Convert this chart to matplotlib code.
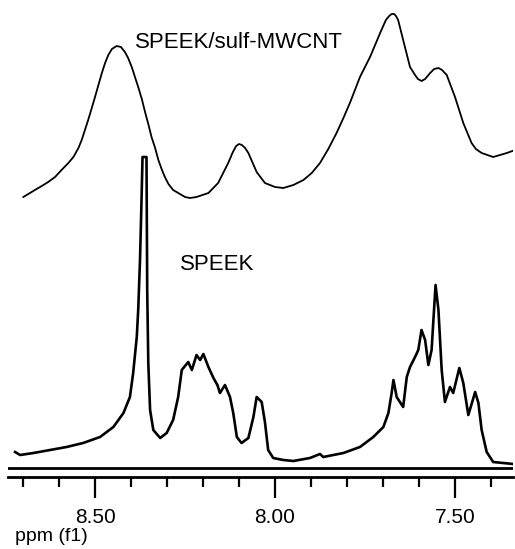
#!/usr/bin/env python
# stacked 1H NMR spectra: SPEEK and SPEEK/sulf-MWCNT (aromatic region)

import matplotlib
matplotlib.use('Agg')
import matplotlib.pyplot as plt

plt.rcParams['font.family'] = ['Liberation Sans', 'DejaVu Sans']

# SPEEK/sulf-MWCNT trace (upper), chemical shift in ppm and height above the baseline
composite_ppm = [8.699, 8.667, 8.648, 8.630, 8.611, 8.593, 8.574, 8.560, 8.546, 8.537,
                 8.528, 8.519, 8.509, 8.500, 8.481, 8.472, 8.463, 8.453, 8.440, 8.428,
                 8.417, 8.408, 8.398, 8.389, 8.380, 8.370, 8.361, 8.352, 8.343, 8.333,
                 8.324, 8.315, 8.306, 8.296, 8.283, 8.264, 8.250, 8.236, 8.218, 8.185,
                 8.158, 8.130, 8.117, 8.108, 8.100, 8.092, 8.083, 8.074, 8.051, 8.028,
                 8.000, 7.977, 7.949, 7.921, 7.898, 7.875, 7.852, 7.829, 7.810, 7.792,
                 7.764, 7.736, 7.708, 7.692, 7.683, 7.676, 7.669, 7.664, 7.658, 7.644,
                 7.625, 7.611, 7.603, 7.593, 7.583, 7.569, 7.558, 7.546, 7.536, 7.523,
                 7.500, 7.477, 7.454, 7.442, 7.426, 7.394, 7.356, 7.333]
composite_int = [271, 278, 282, 286, 291, 298, 305, 311, 320, 328,
                 338, 348, 360, 371, 395, 405, 413, 419, 422, 421,
                 416, 410, 401, 391, 381, 369, 356, 344, 331, 320,
                 308, 299, 291, 284, 278, 274, 271, 270, 271, 275,
                 285, 305, 316, 322, 324, 323, 320, 315, 296, 285,
                 281, 280, 283, 288, 295, 305, 319, 335, 350, 365,
                 391, 411, 435, 448, 452, 454, 454, 452, 448, 428,
                 401, 393, 389, 387, 389, 395, 399, 400, 398, 393,
                 371, 345, 325, 319, 315, 311, 315, 318]

# SPEEK trace (lower)
speek_ppm = [8.722, 8.708, 8.671, 8.625, 8.579, 8.533, 8.486, 8.449, 8.421, 8.403,
             8.394, 8.384, 8.380, 8.375, 8.371, 8.368, 8.357, 8.355, 8.352, 8.347,
             8.338, 8.319, 8.301, 8.283, 8.269, 8.259, 8.241, 8.231, 8.218, 8.208,
             8.199, 8.185, 8.171, 8.160, 8.153, 8.139, 8.125, 8.116, 8.106, 8.093,
             8.074, 8.060, 8.051, 8.037, 8.028, 8.019, 8.005, 7.977, 7.949, 7.903,
             7.875, 7.866, 7.810, 7.764, 7.727, 7.699, 7.685, 7.676, 7.671, 7.662,
             7.644, 7.634, 7.625, 7.611, 7.602, 7.593, 7.583, 7.574, 7.565, 7.560,
             7.554, 7.546, 7.537, 7.528, 7.514, 7.505, 7.488, 7.477, 7.463, 7.444,
             7.435, 7.426, 7.412, 7.394, 7.366, 7.338]
speek_int = [16, 13, 15, 18, 21, 25, 31, 41, 55, 71,
             95, 131, 158, 208, 265, 311, 311, 178, 105, 58,
             38, 30, 35, 48, 71, 98, 106, 98, 113, 108,
             114, 101, 90, 83, 75, 83, 71, 55, 31, 25,
             30, 51, 71, 66, 46, 18, 10, 8, 7, 10,
             14, 11, 15, 21, 31, 41, 55, 75, 88, 71,
             61, 91, 101, 111, 118, 138, 128, 103, 118, 148,
             183, 158, 98, 66, 81, 75, 100, 85, 53, 76,
             65, 38, 16, 6, 5, 4]

labels = ['SPEEK/sulf-MWCNT', 'SPEEK']
major_ticks = [8.50, 8.00, 7.50]
minor_ticks = [8.70, 8.60, 8.40, 8.30, 8.20, 8.10, 7.90, 7.80, 7.70, 7.60, 7.40]

#------------------------------------------------------------------------------
W, H = 515, 549
fig = plt.figure(figsize=(W / 100, H / 100), dpi=100)
ax = fig.add_axes([8 / W, 72 / H, 505 / W, 477 / H])

ax.plot(composite_ppm, composite_int, color='black', lw=1.3,
        solid_joinstyle='round')
ax.plot(speek_ppm, speek_int, color='black', lw=1.9)
ax.axhline(0, color='black', lw=2.0)

ax.text(8.389, 420, labels[0], fontsize=16, ha='left', va='baseline')
ax.text(8.264, 198, labels[1], fontsize=16, ha='left', va='baseline')

ax.set_xlim(8.7417, 7.3389)
ax.set_ylim(-9, 468)

for side in ['top', 'left', 'right']:
    ax.spines[side].set_visible(False)
ax.spines['bottom'].set_linewidth(2.0)
ax.set_yticks([])
ax.set_xticks(major_ticks)
ax.set_xticklabels(['%.2f' % t for t in major_ticks])
ax.set_xticks(minor_ticks, minor=True)
ax.tick_params(axis='x', which='major', direction='out', length=15, width=1.6,
               pad=7, labelsize=15)
ax.tick_params(axis='x', which='minor', direction='out', length=7.5, width=1.6)

fig.text(15 / W, 1 - 541 / H, 'ppm (f1)', fontsize=14, ha='left', va='baseline')

fig.savefig('out.png', dpi=100)
